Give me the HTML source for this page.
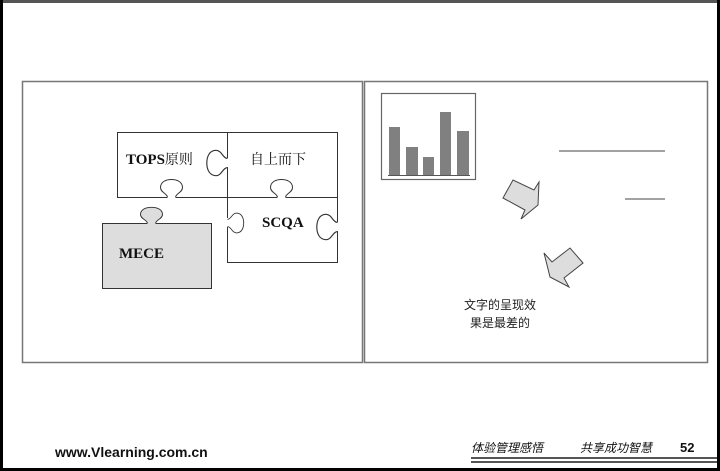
<!DOCTYPE html>
<html><head><meta charset="utf-8"><style>
body{margin:0;width:720px;height:471px;overflow:hidden;background:#fff}
svg{display:block}
</style></head><body>
<svg width="720" height="471" viewBox="0 0 720 471" xmlns="http://www.w3.org/2000/svg">
<defs>
<path id="k" d="M-4,0 C-4,-4 -11,-5 -11,-10 C-11,-16 -5,-18 0,-18 C5,-18 11,-16 11,-10 C11,-5 4,-4 4,0"/>
</defs>
<!-- page frame -->
<rect x="0" y="0" width="720" height="3" fill="#555"/>
<rect x="0" y="0" width="3" height="471" fill="#000"/>
<rect x="717" y="0" width="3" height="471" fill="#000"/>
<rect x="0" y="468" width="720" height="3" fill="#000"/>
<!-- panels -->
<rect x="22.5" y="81.5" width="340" height="281" fill="none" stroke="#777" stroke-width="1.5"/>
<rect x="364.5" y="81.5" width="343" height="281" fill="none" stroke="#777" stroke-width="1.5"/>
<!-- puzzle -->
<g stroke="#333" stroke-width="1" fill="#fff">
<rect x="117.5" y="132.5" width="110" height="65"/>
<rect x="227.5" y="132.5" width="110" height="65"/>
<rect x="227.5" y="197.5" width="110" height="65"/>
<rect x="102.5" y="223.5" width="109" height="65" fill="#ddd"/>
</g>
<g stroke="#333" stroke-width="1" fill="#fff">
<!-- TOPS bottom knob inward -->
<line x1="167" y1="197.5" x2="176" y2="197.5" stroke="#fff" stroke-width="2"/>
<use href="#k" transform="translate(171.5,197.5)"/>
<!-- 自上而下 bottom knob inward -->
<line x1="277" y1="197.5" x2="286" y2="197.5" stroke="#fff" stroke-width="2"/>
<use href="#k" transform="translate(281.5,197.5)"/>
<!-- TOPS right knob into TOPS (left) -->
<line x1="227.5" y1="158" x2="227.5" y2="167" stroke="#fff" stroke-width="2"/>
<use href="#k" transform="translate(227.5,163) rotate(-90) scale(1.15)"/>
<!-- SCQA left knob into SCQA -->
<line x1="227.5" y1="218" x2="227.5" y2="227" stroke="#fff" stroke-width="2"/>
<use href="#k" transform="translate(227.5,223) rotate(90) scale(0.9)"/>
<!-- SCQA right knob inward -->
<line x1="337.5" y1="222" x2="337.5" y2="231" stroke="#fff" stroke-width="2"/>
<use href="#k" transform="translate(337.5,227) rotate(-90) scale(1.15)"/>
<!-- MECE top knob -->
<line x1="147" y1="223.5" x2="156" y2="223.5" stroke="#ddd" stroke-width="2"/>
<use href="#k" transform="translate(151.5,223.5) scale(1,0.9)" fill="#ddd"/>
</g>
<g font-family="Liberation Serif, 'Noto Serif CJK SC', serif" font-weight="bold" font-size="15" fill="#111">
<text x="126" y="164">TOPS<tspan font-size="14" font-weight="normal">原则</tspan></text>
<text x="250" y="164" font-weight="normal" font-size="14">自上而下</text>
<text x="262" y="227">SCQA</text>
<text x="119" y="258">MECE</text>
</g>
<!-- chart -->
<rect x="381.5" y="93.5" width="94" height="86" fill="#fff" stroke="#666" stroke-width="1.2"/>
<g fill="#808080">
<rect x="389" y="127" width="11" height="48"/>
<rect x="406" y="147" width="12" height="28"/>
<rect x="423" y="157" width="11" height="18"/>
<rect x="440" y="112" width="11" height="63"/>
<rect x="457" y="131" width="12" height="44"/>
</g>
<line x1="388" y1="175.5" x2="470" y2="175.5" stroke="#555"/>
<line x1="559" y1="151" x2="665" y2="151" stroke="#444" stroke-width="1"/>
<line x1="625" y1="199" x2="665" y2="199" stroke="#444" stroke-width="1"/>
<polygon points="503,198 513,180 534,190 539,182 538,205 521,219 525,210" fill="#ddd" stroke="#444"/>
<polygon points="583,263 570,248 552,262 544,253 550,277 569,287 564,278" fill="#ddd" stroke="#444"/>
<g font-family="Liberation Sans, 'Noto Sans CJK SC', sans-serif" font-size="12" fill="#222" text-anchor="middle">
<text x="500" y="309">文字的呈现效</text>
<text x="500" y="327">果是最差的</text>
</g>
<!-- footer -->
<text x="55" y="457" font-family="Liberation Sans, sans-serif" font-weight="bold" font-size="14" fill="#111">www.Vlearning.com.cn</text>
<g font-family="Liberation Sans, 'Noto Sans CJK SC', sans-serif" font-style="italic" font-size="12" fill="#111">
<text x="471" y="452">体验管理感悟</text>
<text x="580" y="452">共享成功智慧</text>
</g>
<text x="680" y="452" font-family="Liberation Sans, sans-serif" font-weight="bold" font-size="13" fill="#111">52</text>
<rect x="471" y="457" width="246" height="2" fill="#555"/>
<rect x="471" y="461" width="246" height="2" fill="#555"/>
</svg>
</body></html>
